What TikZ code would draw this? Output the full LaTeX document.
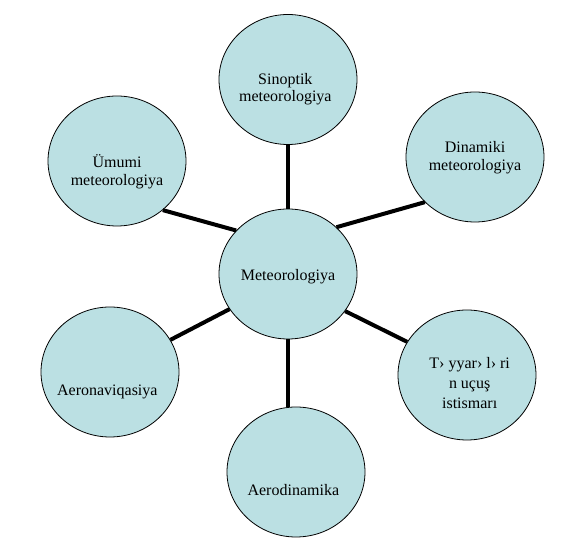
\documentclass[tikz,border=0pt]{standalone}
\usepackage{fontspec}
\setmainfont{Liberation Serif}
\usetikzlibrary{shapes.geometric}

\definecolor{discfill}{RGB}{187,224,227}

\begin{document}
\begin{tikzpicture}[
    x=0.75pt, y=-0.75pt,
    font=\fontsize{12}{13}\selectfont,
    disc/.style={draw, ellipse, fill=discfill, line width=0.6pt, minimum width=103.5pt, minimum height=97.5pt, inner sep=0pt},
    txt/.style={align=center},
    link/.style={line width=3pt}
]
\useasboundingbox (0,0) rectangle (576,552);

% Centre
\node[disc, label={[txt, yshift=-2pt]center:Meteorologiya}] (meteo) at (288,274) {};

% Branches
\node[disc, label={[txt, xshift=-2pt, yshift=-7.5pt]center:Sinoptik\\meteorologiya}] (sinoptik) at (288,79.5) {};
\node[disc, label={[txt, yshift=-0.5pt]center:Dinamiki\\meteorologiya}] (dinamiki) at (475,157) {};
\node[disc, label={[txt, yshift=-8pt]center:Ümumi\\meteorologiya}] (umumi) at (117,161) {};
\node[disc, label={[txt, font=\fontsize{12}{15}\selectfont, xshift=2pt, yshift=-6pt]center:T› yyar› l› ri\\n uçuş\\istismarı}] (tayyara) at (467,375) {};
\node[disc, label={[txt, xshift=-2pt, yshift=-15pt]center:Aeronaviqasiya}] (aeronav) at (110,372) {};
\node[disc, label={[txt, xshift=-2pt, yshift=-13.5pt]center:Aerodinamika}] (aerodin) at (296,472) {};

% Links
\draw[link] (meteo.north) -- (sinoptik.south);
\draw[link] (meteo.44) -- (dinamiki.222);
\draw[link] (meteo.140) -- (umumi.313);
\draw[link] (meteo.-33) -- (tayyara.151);
\draw[link] (meteo.211) -- (aeronav.28);
\draw[link] (meteo.south) -- (meteo.south |- aerodin.north);

\end{tikzpicture}
\end{document}
